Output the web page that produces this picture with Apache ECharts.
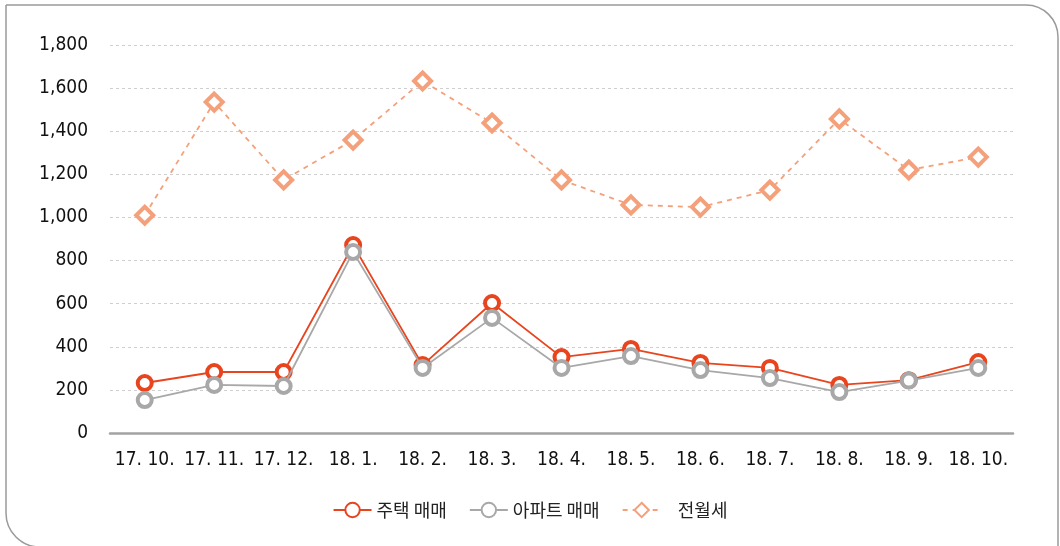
<!DOCTYPE html>
<html><head><meta charset="utf-8">
<script src="https://cdn.jsdelivr.net/npm/echarts@6/dist/echarts.min.js"></script>
<style>html,body{margin:0;padding:0;background:#fff}#c{width:1060px;height:546px}</style>
</head><body><div id="c"></div>
<script>
const categories = ['17. 10.','17. 11.','17. 12.','18. 1.','18. 2.','18. 3.','18. 4.','18. 5.','18. 6.','18. 7.','18. 8.','18. 9.','18. 10.'];
const houseSales = [232, 283, 283, 872, 315, 603, 352, 390, 325, 302, 223, 245, 329];
const aptSales   = [153, 223, 218, 840, 302, 534, 302, 357, 292, 255, 190, 243, 302];
const rentSales  = [1010, 1535, 1174, 1359, 1633, 1438, 1174, 1058, 1048, 1127, 1457, 1220, 1280];
const seriesNames = ['주택 매매', '아파트 매매', '전월세'];
const yTicks = {min: 0, max: 1800, interval: 200};

const chart = echarts.init(document.getElementById('c'), null, {renderer: 'canvas'});
const axisFont = '"Liberation Sans Narrow", "DejaVu Sans Condensed", sans-serif';
chart.setOption({
  animation: false,
  backgroundColor: '#fff',
  graphic: [{
    type: 'rect', silent: true, z: -10,
    shape: {x: 6, y: 5, width: 1052, height: 542, r: [0, 32, 0, 34]},
    style: {fill: 'none', stroke: '#9a9a9a', lineWidth: 1.5}
  }],
  grid: {left: 110, right: 47, top: 45, bottom: 113, containLabel: false},
  legend: {
    bottom: 22, left: 'center', itemWidth: 38, itemHeight: 18, itemGap: 22,
    textStyle: {fontFamily: '"Noto Sans CJK KR", sans-serif', fontSize: 18, color: '#222'},
    formatter: n => n === '전월세' ? '   ' + n : n,
    data: seriesNames
  },
  xAxis: {
    type: 'category', data: categories, boundaryGap: true,
    axisLine: {lineStyle: {color: '#a3a3a3', width: 2.5}},
    axisTick: {show: false},
    axisLabel: {fontFamily: axisFont, fontSize: 19, color: '#111', margin: 18, interval: 0}
  },
  yAxis: {
    type: 'value', min: yTicks.min, max: yTicks.max, interval: yTicks.interval,
    axisLine: {show: false}, axisTick: {show: false},
    axisLabel: {fontFamily: axisFont, fontSize: 19, color: '#111', margin: 22,
      formatter: v => v.toLocaleString('en-US')},
    splitLine: {lineStyle: {color: '#cfcfcf', type: [3, 3], width: 1}}
  },
  series: [
    {name: seriesNames[0], type: 'line', data: houseSales, z: 3,
     symbol: 'circle', symbolSize: 14,
     lineStyle: {color: '#e8451f', width: 1.8},
     itemStyle: {color: '#fff', borderColor: '#e8451f', borderWidth: 4}},
    {name: seriesNames[1], type: 'line', data: aptSales, z: 4,
     symbol: 'circle', symbolSize: 14,
     lineStyle: {color: '#a8a8a8', width: 1.8},
     itemStyle: {color: '#fff', borderColor: '#a8a8a8', borderWidth: 4}},
    {name: seriesNames[2], type: 'line', data: rentSales, z: 2,
     symbol: 'diamond', symbolSize: 17,
     lineStyle: {color: '#f4a07a', width: 1.8, type: [5, 5]},
     itemStyle: {color: '#fff', borderColor: '#f4a07a', borderWidth: 4}}
  ]
});
</script></body></html>
